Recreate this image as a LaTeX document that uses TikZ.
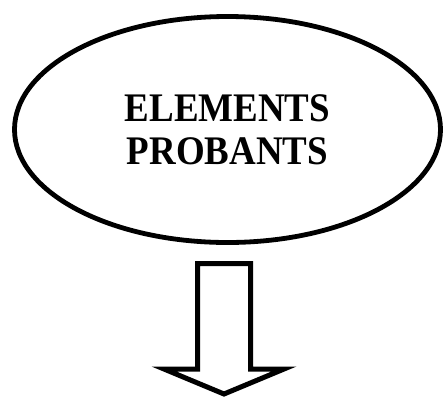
\documentclass[tikz,border=0pt]{standalone}
\usepackage{fontspec}
\setmainfont{Liberation Serif}
\newfontfamily\bubblefont[FakeStretch=0.91]{Liberation Serif}
\usetikzlibrary{shapes.geometric}

\begin{document}
\begin{tikzpicture}[
  x=1pt, y=-1pt,
  bubble/.style={
    ellipse, draw, line width=4.8pt, minimum width=426pt, minimum height=226pt,
    inner sep=0pt, align=center,
    font=\bubblefont\bfseries\fontsize{40.6}{43}\selectfont
  },
  blockarrow/.style={draw, line width=5pt, line join=miter, fill=white}
]
  \useasboundingbox (0,0) rectangle (444,397);

  \node[bubble] (elements) at (227.5,129.5) {ELEMENTS\\PROBANTS};

  % hollow arrow below the bubble
  \coordinate (tip) at (224,394);
  \draw[blockarrow] (197.5,263.5) -- (250.5,263.5) -- (250.5,369) -- (284,369)
    -- (tip) -- (164,369) -- (197.5,369) -- cycle;
\end{tikzpicture}
\end{document}
